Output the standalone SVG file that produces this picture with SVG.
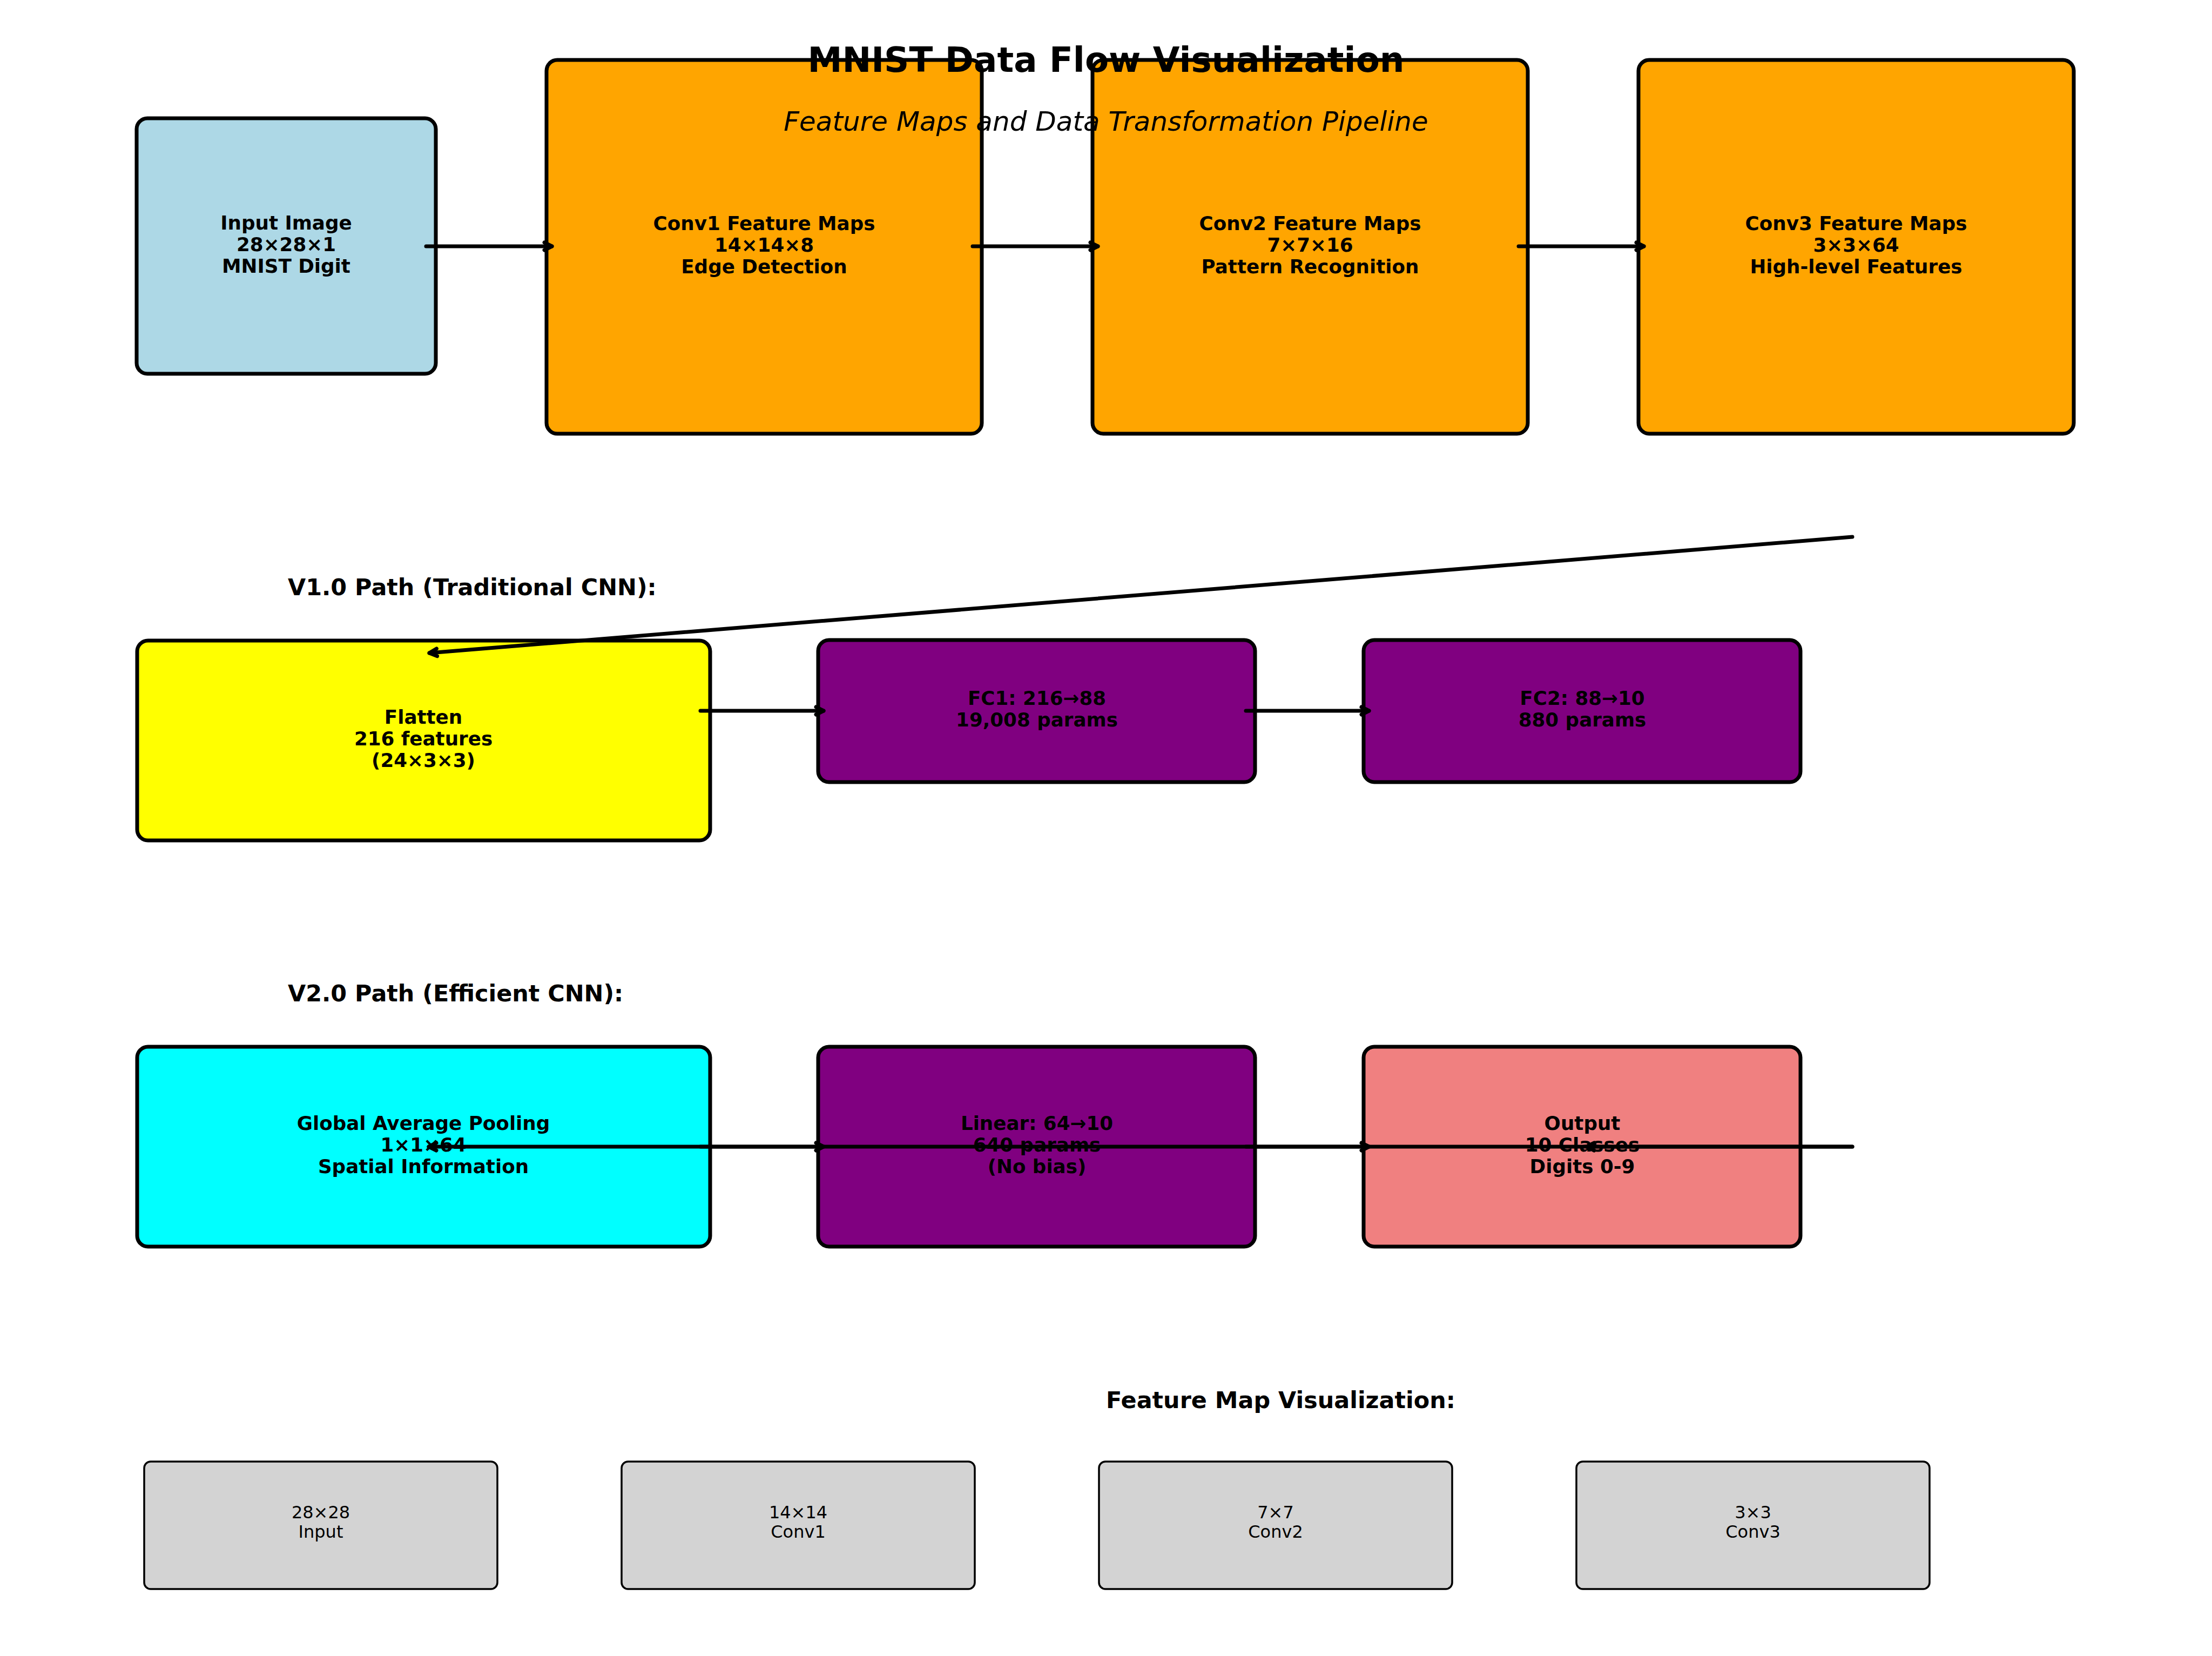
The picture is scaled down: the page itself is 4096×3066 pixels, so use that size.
<svg xmlns="http://www.w3.org/2000/svg" width="4096" height="3066" viewBox="0 0 4096 3066">
<style>
text{font-family:"DejaVu Sans","Liberation Sans",sans-serif;fill:#000;text-anchor:middle}
.box{stroke:#000;stroke-width:7}
.bt{font-size:35.7px;font-weight:bold}
.sec{font-size:42.9px;font-weight:bold;text-anchor:start}
.grey{fill:#D3D3D3;stroke:#000;stroke-width:3.5}
.gt{font-size:32px}
.con{fill:none;stroke:#000;stroke-width:7;stroke-linecap:round}
</style>
<defs>
<marker id="ah" markerUnits="userSpaceOnUse" viewBox="-20 -20 40 40" markerWidth="40" markerHeight="40" refX="0" refY="0" orient="auto" overflow="visible">
<path d="M-14,-7 L0,0 L-14,7" fill="none" stroke="#000" stroke-width="7" stroke-linecap="round" stroke-linejoin="round"/>
</marker>
</defs>
<rect width="4096" height="3066" fill="#fff"/>

<g id="input">
<rect class="box" x="253" y="219" width="554" height="473" rx="20" fill="#ADD8E6"/>
<text class="bt" x="530" y="425">Input Image<tspan x="530" dy="40">28×28×1</tspan><tspan x="530" dy="40">MNIST Digit</tspan></text>
</g>
<g id="conv1">
<rect class="box" x="1012" y="111" width="806" height="692" rx="20" fill="#FFA500"/>
<text class="bt" x="1415" y="426">Conv1 Feature Maps<tspan x="1415" dy="40">14×14×8</tspan><tspan x="1415" dy="40">Edge Detection</tspan></text>
</g>
<g id="conv2">
<rect class="box" x="2023" y="111" width="806" height="692" rx="20" fill="#FFA500"/>
<text class="bt" x="2426" y="426">Conv2 Feature Maps<tspan x="2426" dy="40">7×7×16</tspan><tspan x="2426" dy="40">Pattern Recognition</tspan></text>
</g>
<g id="conv3">
<rect class="box" x="3034" y="111" width="806" height="692" rx="20" fill="#FFA500"/>
<text class="bt" x="3437" y="426">Conv3 Feature Maps<tspan x="3437" dy="40">3×3×64</tspan><tspan x="3437" dy="40">High-level Features</tspan></text>
</g>

<g id="title">
<text x="2048" y="133" font-size="64.3" font-weight="bold">MNIST Data Flow Visualization</text>
<text x="2048" y="242" font-size="50" font-style="italic">Feature Maps and Data Transformation Pipeline</text>
</g>

<text class="sec" x="533" y="1102">V1.0 Path (Traditional CNN):</text>
<g id="flatten">
<rect class="box" x="254" y="1186" width="1061" height="370" rx="20" fill="#FFFF00"/>
<text class="bt" x="784" y="1340">Flatten<tspan x="784" dy="40">216 features</tspan><tspan x="784" dy="40">(24×3×3)</tspan></text>
</g>
<g id="fc1">
<rect class="box" x="1515" y="1185" width="809" height="263" rx="20" fill="#800080"/>
<text class="bt" x="1920" y="1305">FC1: 216→88<tspan x="1920" dy="40">19,008 params</tspan></text>
</g>
<g id="fc2">
<rect class="box" x="2525" y="1185" width="809" height="263" rx="20" fill="#800080"/>
<text class="bt" x="2930" y="1305">FC2: 88→10<tspan x="2930" dy="40">880 params</tspan></text>
</g>

<text class="sec" x="533" y="1854">V2.0 Path (Efficient CNN):</text>
<g id="gap">
<rect class="box" x="254" y="1938" width="1061" height="370" rx="20" fill="#00FFFF"/>
<text class="bt" x="784" y="2092">Global Average Pooling<tspan x="784" dy="40">1×1×64</tspan><tspan x="784" dy="40">Spatial Information</tspan></text>
</g>
<g id="linear">
<rect class="box" x="1515" y="1938" width="809" height="370" rx="20" fill="#800080"/>
<text class="bt" x="1920" y="2092">Linear: 64→10<tspan x="1920" dy="40">640 params</tspan><tspan x="1920" dy="40">(No bias)</tspan></text>
</g>
<g id="output">
<rect class="box" x="2525" y="1938" width="809" height="370" rx="20" fill="#F08080"/>
<text class="bt" x="2930" y="2092">Output<tspan x="2930" dy="40">10 Classes</tspan><tspan x="2930" dy="40">Digits 0-9</tspan></text>
</g>

<text class="sec" x="2048" y="2607">Feature Map Visualization:</text>
<g id="fm-input">
<rect class="grey" x="267" y="2706" width="654" height="236" rx="12"/>
<text class="gt" x="594" y="2811">28×28<tspan x="594" dy="36">Input</tspan></text>
</g>
<g id="fm-conv1">
<rect class="grey" x="1151" y="2706" width="654" height="236" rx="12"/>
<text class="gt" x="1478" y="2811">14×14<tspan x="1478" dy="36">Conv1</tspan></text>
</g>
<g id="fm-conv2">
<rect class="grey" x="2035" y="2706" width="654" height="236" rx="12"/>
<text class="gt" x="2362" y="2811">7×7<tspan x="2362" dy="36">Conv2</tspan></text>
</g>
<g id="fm-conv3">
<rect class="grey" x="2919" y="2706" width="654" height="236" rx="12"/>
<text class="gt" x="3246" y="2811">3×3<tspan x="3246" dy="36">Conv3</tspan></text>
</g>

<g id="connectors">
<line class="con" x1="789" y1="456" x2="1022" y2="456" marker-end="url(#ah)"/>
<line class="con" x1="1801" y1="456" x2="2033" y2="456" marker-end="url(#ah)"/>
<line class="con" x1="2812" y1="456" x2="3044" y2="456" marker-end="url(#ah)"/>
<line class="con" x1="3430" y1="994" x2="795" y2="1209" marker-end="url(#ah)"/>
<line class="con" x1="1297" y1="1316" x2="1525" y2="1316" marker-end="url(#ah)"/>
<line class="con" x1="2307" y1="1316" x2="2535" y2="1316" marker-end="url(#ah)"/>
<line class="con" x1="1297" y1="2123" x2="1525" y2="2123" marker-end="url(#ah)"/>
<line class="con" x1="2307" y1="2123" x2="2535" y2="2123" marker-end="url(#ah)"/>
<line class="con" x1="3430" y1="2123" x2="2938" y2="2123" marker-end="url(#ah)"/>
<line class="con" x1="3430" y1="2123" x2="794" y2="2123" marker-end="url(#ah)"/>
</g>
</svg>
